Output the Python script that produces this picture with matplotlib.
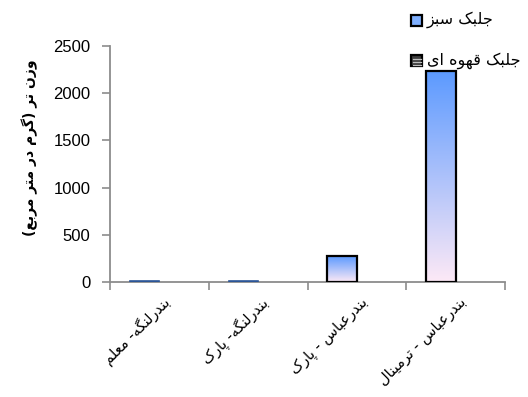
import numpy as np
import matplotlib
matplotlib.use("Agg")
import matplotlib.pyplot as plt
from matplotlib.patches import Rectangle
from matplotlib.lines import Line2D

# ---- data -------------------------------------------------------------
categories = ["بندرلنگه- معلم", "بندرلنگه- پارک", "بندرعباس - پارک", "بندرعباس - ترمینال"]
series_names = ["جلبک سبز", "جلبک قهوه ای"]
green_algae = [8, 8, 275, 2230]
brown_algae = [5, 5, 0, 0]
y_ticks = [0, 500, 1000, 1500, 2000, 2500]
y_title = "وزن تر (گرم در متر مربع)"

# ---- minimal Persian shaping (presentation forms + visual order) -------
# forms: isolated, final, initial, medial
FORMS = {
    "\u0627": ("\uFE8D", "\uFE8E", None, None),
    "\u0628": ("\uFE8F", "\uFE90", "\uFE91", "\uFE92"),
    "\u067E": ("\uFB56", "\uFB57", "\uFB58", "\uFB59"),
    "\u062A": ("\uFE95", "\uFE96", "\uFE97", "\uFE98"),
    "\u062C": ("\uFE9D", "\uFE9E", "\uFE9F", "\uFEA0"),
    "\u062F": ("\uFEA9", "\uFEAA", None, None),
    "\u0631": ("\uFEAD", "\uFEAE", None, None),
    "\u0632": ("\uFEAF", "\uFEB0", None, None),
    "\u0633": ("\uFEB1", "\uFEB2", "\uFEB3", "\uFEB4"),
    "\u0639": ("\uFEC9", "\uFECA", "\uFECB", "\uFECC"),
    "\u0642": ("\uFED5", "\uFED6", "\uFED7", "\uFED8"),
    "\u06A9": ("\uFB8E", "\uFB8F", "\uFB90", "\uFB91"),
    "\u06AF": ("\uFB92", "\uFB93", "\uFB94", "\uFB95"),
    "\u0644": ("\uFEDD", "\uFEDE", "\uFEDF", "\uFEE0"),
    "\u0645": ("\uFEE1", "\uFEE2", "\uFEE3", "\uFEE4"),
    "\u0646": ("\uFEE5", "\uFEE6", "\uFEE7", "\uFEE8"),
    "\u0647": ("\uFEE9", "\uFEEA", "\uFEEB", "\uFEEC"),
    "\u0648": ("\uFEED", "\uFEEE", None, None),
    "\u06CC": ("\uFBFC", "\uFBFD", "\uFBFE", "\uFBFF"),
}
MIRROR = {"(": ")", ")": "("}


def rtl(text):
    out = []
    for i, ch in enumerate(text):
        forms = FORMS.get(ch)
        if forms is None:
            out.append(ch)
            continue
        prev = text[i - 1] if i > 0 else ""
        nxt = text[i + 1] if i + 1 < len(text) else ""
        join_prev = prev in FORMS and FORMS[prev][2] is not None
        join_next = forms[2] is not None and nxt in FORMS
        if join_prev and join_next:
            out.append(forms[3])
        elif join_prev:
            out.append(forms[1])
        elif join_next:
            out.append(forms[2])
        else:
            out.append(forms[0])
    return "".join(MIRROR.get(c, c) for c in reversed(out))


# ---- figure -----------------------------------------------------------
W, H = 528, 397
fig = plt.figure(figsize=(W / 100, H / 100), dpi=100)
ax = fig.add_axes([110 / W, 1 - 282 / H, 395 / W, 236 / H])

x = np.arange(len(categories))
width = 0.30
top_col = np.array([0x5c, 0x9a, 0xff]) / 255
bot_col = np.array([0xfd, 0xe9, 0xf6]) / 255
grad = np.linspace(0, 1, 256)[:, None]
grad_img = (top_col * grad[..., None] + bot_col * (1 - grad[..., None]))

green_bars = ax.bar(x - width / 2, green_algae, width, facecolor="none",
                    edgecolor="black", linewidth=1.6, zorder=3)
for bar in green_bars:
    bx, by = bar.get_x(), bar.get_y()
    bw, bh = bar.get_width(), bar.get_height()
    if bh < 50:
        # hairline-height bars read as a dark blue stroke on the axis
        bar.set_edgecolor("#2b5597")
        bar.set_linewidth(1.2)
        continue
    im = ax.imshow(grad_img, extent=[bx, bx + bw, by, by + bh], origin="lower",
                   aspect="auto", zorder=2, interpolation="bilinear")
    im.set_clip_path(bar)

ax.bar(x + width / 2, brown_algae, width, color="#c8c8c8",
       edgecolor="#c8c8c8", linewidth=0.8, zorder=2)

ax.set_xlim(-0.5, len(categories) - 0.5)
ax.set_ylim(0, 2500)

spine_col = "#8c8c8c"
for side in ("top", "right"):
    ax.spines[side].set_visible(False)
for side in ("left", "bottom"):
    ax.spines[side].set_color(spine_col)
    ax.spines[side].set_linewidth(1.3)

ax.set_yticks(y_ticks)
ax.set_yticklabels([str(v) for v in y_ticks], family="Liberation Sans", fontsize=12)
ax.tick_params(axis="y", direction="out", length=6, width=1.2, color=spine_col, pad=8)

ax.set_xticks(x)
ax.set_xticklabels([])
ax.tick_params(axis="x", which="major", length=0)
ax.set_xticks(np.arange(-0.5, len(categories)), minor=True)
ax.tick_params(axis="x", which="minor", direction="out", length=6, width=1.2,
               color=spine_col)

for xi, label in zip(x, categories):
    ax.annotate(rtl(label), xy=(xi, 0), xycoords="data",
                xytext=(6, -13), textcoords="offset points",
                rotation=45, rotation_mode="anchor", ha="right", va="center",
                family="DejaVu Sans", fontsize=10.5)

fig.text(30 / W, 1 - 148 / H, rtl(y_title), rotation=90, ha="center", va="center",
         family="DejaVu Sans", fontsize=10, fontweight="bold")

# ---- legend -----------------------------------------------------------
def fx(px):
    return px / W


def fy(py):
    return 1 - py / H


fig.add_artist(Rectangle((fx(411), fy(26)), 11 / W, 11 / H, transform=fig.transFigure,
                         facecolor="#7fb0ff", edgecolor="black", linewidth=1.6))
fig.text(fx(427), fy(20), rtl(series_names[0]), ha="left", va="center",
         family="DejaVu Sans", fontsize=11.5)

fig.add_artist(Rectangle((fx(411), fy(66)), 11 / W, 11 / H, transform=fig.transFigure,
                         facecolor="#3c3c3c", edgecolor="black", linewidth=1.6))
for sy in (58.5, 61.5, 64.5):
    fig.add_artist(Line2D([fx(412.5), fx(420.5)], [fy(sy), fy(sy)],
                          transform=fig.transFigure, color="#bdbdbd", linewidth=0.9))
fig.text(fx(427), fy(61), rtl(series_names[1]), ha="left", va="center",
         family="DejaVu Sans", fontsize=11.5)

fig.savefig("out.png", dpi=100)
